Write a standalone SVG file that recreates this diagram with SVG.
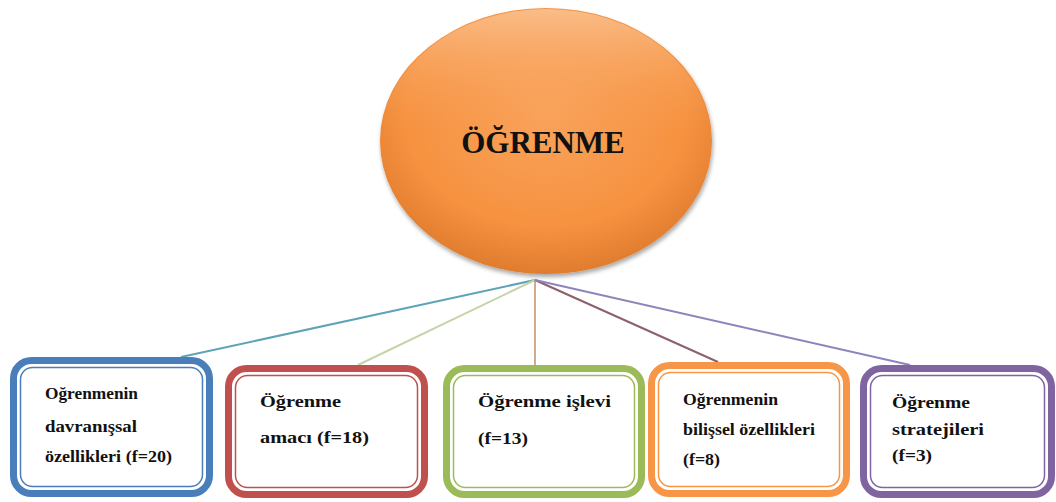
<svg xmlns="http://www.w3.org/2000/svg" width="1056" height="502" viewBox="0 0 1056 502">
<defs>
<radialGradient id="og" cx="50%" cy="40%" r="60%">
<stop offset="0" stop-color="#f9a35c"/>
<stop offset="0.7" stop-color="#f69240"/>
<stop offset="1" stop-color="#e07c2e"/>
</radialGradient>
<linearGradient id="ol" x1="0" y1="0" x2="0" y2="1">
<stop offset="0" stop-color="#fbc79a" stop-opacity="0.8"/>
<stop offset="0.5" stop-color="#f79646" stop-opacity="0"/>
</linearGradient>
<filter id="sh" x="-10%" y="-10%" width="120%" height="125%">
<feGaussianBlur in="SourceAlpha" stdDeviation="2"/>
<feOffset dx="1" dy="3"/>
<feComponentTransfer><feFuncA type="linear" slope="0.35"/></feComponentTransfer>
<feMerge><feMergeNode/><feMergeNode in="SourceGraphic"/></feMerge>
</filter>
</defs>
<style>
text,tspan{font-family:"Liberation Serif","Times New Roman",serif;font-weight:bold;fill:#111}
.t{font-size:17px}
.outer{fill:#fff;stroke-width:7}
.inner{fill:none;stroke-width:1.5}
.c{fill:none;stroke-width:2}
</style>
<rect width="1056" height="502" fill="#fff"/>
<g id="connectors">
<line class="c" x1="535" y1="280" x2="181" y2="357" stroke="#5fa3b8"/>
<line class="c" x1="535" y1="280" x2="358" y2="365" stroke="#c5d4a8"/>
<line class="c" x1="535" y1="280" x2="535" y2="365" stroke="#d1ab8c"/>
<line class="c" x1="535" y1="280" x2="718" y2="362" stroke="#8e5f6f"/>
<line class="c" x1="535" y1="280" x2="910" y2="365" stroke="#8e84bd"/>
</g>
<g id="center">
<ellipse cx="546" cy="141" rx="166" ry="133" fill="url(#og)" filter="url(#sh)"/>
<ellipse cx="546" cy="141" rx="165" ry="132" fill="url(#ol)"/>
<text x="543" y="153" text-anchor="middle" font-size="31">ÖĞRENME</text>
</g>
<g id="n1">
<rect class="outer" x="13.5" y="360.5" width="196" height="133" rx="18" stroke="#4a7ebb"/>
<rect class="inner" x="20.5" y="367.5" width="182" height="119" rx="12" stroke="#4a7ebb"/>
<text class="t" x="45" y="399" textLength="93" lengthAdjust="spacingAndGlyphs">Oğrenmenin</text>
<text class="t" x="45" y="432" textLength="92" lengthAdjust="spacingAndGlyphs">davranışsal</text>
<text class="t" x="45" y="462" textLength="127" lengthAdjust="spacingAndGlyphs">özellikleri (f=20)</text>
</g>
<g id="n2">
<rect class="outer" x="228.5" y="368.5" width="196" height="126" rx="18" stroke="#c0504d"/>
<rect class="inner" x="235.5" y="375.5" width="182" height="112" rx="12" stroke="#c0504d"/>
<text class="t" x="260" y="407" textLength="81" lengthAdjust="spacingAndGlyphs">Öğrenme</text>
<text class="t" x="260" y="443" textLength="109" lengthAdjust="spacingAndGlyphs">amacı (f=18)</text>
</g>
<g id="n3">
<rect class="outer" x="446.5" y="368.5" width="195" height="126" rx="18" stroke="#9bbb59"/>
<rect class="inner" x="453.5" y="375.5" width="181" height="112" rx="12" stroke="#9bbb59"/>
<text class="t" x="478" y="407" textLength="133" lengthAdjust="spacingAndGlyphs">Öğrenme işlevi</text>
<text class="t" x="478" y="444" textLength="50" lengthAdjust="spacingAndGlyphs">(f=13)</text>
</g>
<g id="n4">
<rect class="outer" x="651.5" y="365.5" width="195" height="128" rx="18" stroke="#f79646"/>
<rect class="inner" x="658.5" y="372.5" width="181" height="114" rx="12" stroke="#f79646"/>
<text class="t" x="683" y="405" textLength="95" lengthAdjust="spacingAndGlyphs">Oğrenmenin</text>
<text class="t" x="683" y="435" textLength="132" lengthAdjust="spacingAndGlyphs">bilişsel özellikleri</text>
<text class="t" x="683" y="465" textLength="37" lengthAdjust="spacingAndGlyphs">(f=8)</text>
</g>
<g id="n5">
<rect class="outer" x="863.5" y="368.5" width="188" height="126" rx="18" stroke="#8064a2"/>
<rect class="inner" x="870.5" y="375.5" width="174" height="112" rx="12" stroke="#8064a2"/>
<text class="t" x="892" y="408" textLength="78" lengthAdjust="spacingAndGlyphs">Öğrenme</text>
<text class="t" x="892" y="435" textLength="92" lengthAdjust="spacingAndGlyphs">stratejileri</text>
<text class="t" x="892" y="461" textLength="40" lengthAdjust="spacingAndGlyphs">(f=3)</text>
</g>
</svg>
